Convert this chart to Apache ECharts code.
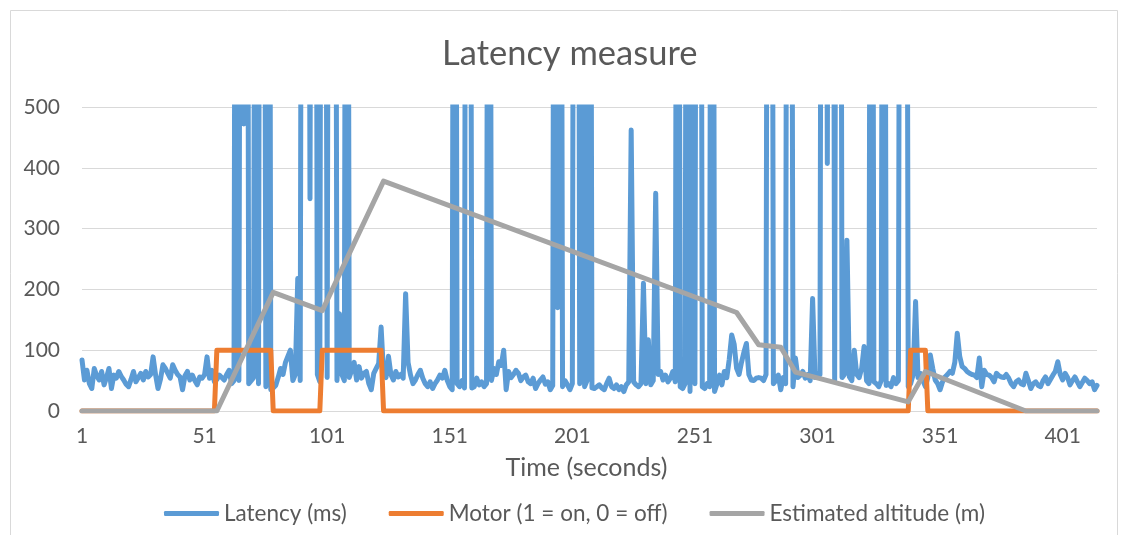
<!DOCTYPE html>
<html>
<head>
<meta charset="utf-8">
<script src="https://cdn.jsdelivr.net/npm/echarts@6/dist/echarts.min.js"></script>
<style>
html,body{margin:0;padding:0;background:#fff;}
#chart{width:1123px;height:535px;}
</style>
</head>
<body>
<div id="chart"></div>
<script>
// Time axis: seconds 1..415
const firstSecond = 1;
const lastSecond = 415;

// Latency (ms), one value per second (values above 500 are clipped by the axis)
const latency = [
 84,51,67,45,37,70,58,51,65,43, 55,70,37,59,54,65,57,51,44,40,
 52,65,48,55,62,51,65,56,60,89, 60,37,52,76,70,62,54,76,67,60,
 56,35,58,65,51,59,50,43,56,54, 60,89,54,67,48,52,59,55,51,60,
 67,45,50,2100,50,1900,472,2300,45,50, 55,2000,45,2400,1800,40,2200,35,38,42,
 55,70,60,80,90,100,50,60,218,50, 2000,2300,1900,349,2100,2000,60,48,2200,1800,
 55,2000,2400,1900,50,160,60,50,2100,55, 67,80,51,73,54,62,65,45,35,62,
 70,78,138,62,55,90,60,51,65,56, 60,54,193,80,59,45,51,60,67,54,
 45,40,48,37,45,51,59,54,67,50, 40,35,2000,45,40,50,38,2200,1900,38,
 40,54,43,48,40,45,2000,50,70,60, 81,75,100,35,65,55,60,67,62,50,
 56,59,48,45,54,37,45,51,56,44, 48,35,42,2100,170,2000,40,50,43,35,
 45,2000,2200,45,2100,40,50,2000,38,37, 40,43,38,35,45,54,40,37,43,35,
 40,32,43,48,462,48,43,40,45,210, 45,117,43,50,358,60,65,51,59,48,
 54,65,48,2000,40,37,45,2100,32,2000, 45,2200,2000,40,37,45,40,2100,32,45,
 59,43,65,55,85,125,110,70,60,80, 97,111,60,51,50,54,55,54,50,60,
 2000,2100,45,50,59,35,55,45,2200,1900, 40,87,55,59,65,54,60,50,185,55,
 62,60,2000,2200,407,2100,1900,50,2000,2300, 55,60,281,56,50,100,60,55,70,106,
 50,45,2000,48,45,40,50,2100,42,45, 40,55,45,50,2000,2200,1900,40,45,60,
 180,55,62,50,40,55,92,70,51,45, 35,48,56,60,65,62,80,128,90,73,
 70,65,62,60,59,55,87,40,67,60, 59,55,48,62,58,56,55,60,54,45,
 40,48,51,45,43,62,50,37,45,48, 42,40,50,56,45,52,59,65,81,60,
 51,62,55,43,50,56,48,40,47,54, 50,45,48,35,42
];

// Motor (1 = on, 0 = off) plotted as 0 / 100: breakpoints (second, value)
const motorSeconds = [1, 55, 56, 78, 79, 98, 99, 123, 124, 338, 339, 345, 346, 415];
const motorValues  = [0, 0, 100, 100, 0, 0, 100, 100, 0, 0, 100, 100, 0, 0];

// Estimated altitude (m): breakpoints (second, value)
const altSeconds = [1, 56, 79, 99, 124, 268, 277, 286, 292, 338, 345, 386, 415];
const altValues  = [0, 0, 195, 165, 378, 162, 109, 105, 64, 15, 65, 0, 0];

// Y axis ticks
const yMin = 0, yMax = 500, yStep = 100;

const categories = [];
for (let s = firstSecond; s <= lastSecond; s++) categories.push(String(s));

function sparse(secs, vals) {
  const arr = new Array(categories.length).fill(null);
  secs.forEach((s, i) => { arr[s - firstSecond] = vals[i]; });
  return arr;
}

const FONT = 'Lato';
const TXT = '#595959';

const chart = echarts.init(document.getElementById('chart'), null, {renderer: 'canvas'});
chart.setOption({
  animation: false,
  backgroundColor: '#ffffff',
  graphic: [{
    type: 'rect', left: 8, top: 8,
    shape: {width: 1107, height: 540},
    style: {fill: 'none', stroke: '#d9d9d9', lineWidth: 1},
    silent: true, z: -1
  }],
  title: {
    text: 'Latency measure',
    left: 437, top: 31,
    textStyle: {fontFamily: FONT, fontSize: 34.5, fontWeight: 'normal', color: TXT}
  },
  legend: {
    bottom: 5,
    left: 159,
    icon: 'roundRect',
    itemWidth: 55, itemHeight: 5, itemGap: 42,
    textStyle: {fontFamily: FONT, fontSize: 22.5, color: TXT},
    data: ['Latency (ms)', 'Motor (1 = on, 0 = off)', 'Estimated altitude (m)']
  },
  grid: {left: 82, right: 26, top: 107, bottom: 124, containLabel: false},
  xAxis: {
    type: 'category',
    data: categories,
    boundaryGap: false,
    name: 'Time (seconds)',
    nameLocation: 'middle',
    nameGap: 44,
    nameTextStyle: {fontFamily: FONT, fontSize: 25, color: TXT, padding: [0, 6, 0, 0]},
    axisLine: {show: true, lineStyle: {color: '#d9d9d9', width: 1}},
    axisTick: {show: false},
    axisLabel: {interval: 49, margin: 15, fontFamily: FONT, fontSize: 21, color: TXT},
    splitLine: {show: false}
  },
  yAxis: {
    type: 'value',
    min: yMin, max: yMax, interval: yStep,
    axisLine: {show: false},
    axisTick: {show: false},
    axisLabel: {margin: 22, fontFamily: FONT, fontSize: 21, color: TXT},
    splitLine: {lineStyle: {color: '#d9d9d9', width: 1}}
  },
  series: [
    {
      name: 'Latency (ms)', type: 'line', data: latency,
      symbol: 'none', clip: true,
      color: '#5B9BD5',
      lineStyle: {color: '#5B9BD5', width: 5, cap: 'round', join: 'round'}
    },
    {
      name: 'Motor (1 = on, 0 = off)', type: 'line', data: sparse(motorSeconds, motorValues),
      connectNulls: true, symbol: 'none', clip: true,
      color: '#ED7D31',
      lineStyle: {color: '#ED7D31', width: 5, cap: 'round', join: 'round'}
    },
    {
      name: 'Estimated altitude (m)', type: 'line', data: sparse(altSeconds, altValues),
      connectNulls: true, symbol: 'none', clip: true,
      color: '#A5A5A5',
      lineStyle: {color: '#A5A5A5', width: 5, cap: 'round', join: 'round'}
    }
  ]
});
</script>
</body>
</html>
